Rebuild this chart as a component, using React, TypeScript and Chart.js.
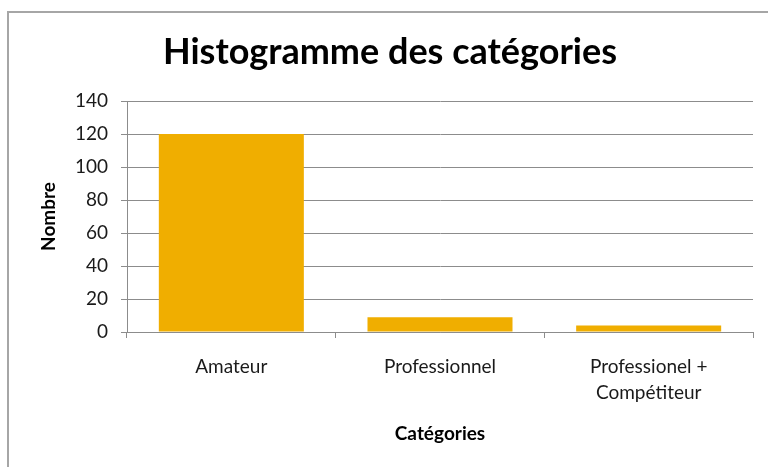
import React, { useEffect, useRef } from "react";
import { Chart, registerables } from "chart.js";

Chart.register(...registerables);

const categories: (string | string[])[] = [
  "Amateur",
  "Professionnel",
  ["Professionel +", "Compétiteur"],
];
const counts: number[] = [120, 9, 4];
const yTicks = { min: 0, max: 140, step: 20 };

const titleText = "Histogramme des catégories";
const yTitle = "Nombre";
const xTitle = "Catégories";

const FONT = "Lato, 'Open Sans', sans-serif";
const BAR = "#F0AE00";
const GRID = "#8c8c8c";

const framePlugin = {
  id: "frameAndTitle",
  beforeDraw(chart: any) {
    const ctx = chart.ctx;
    ctx.save();
    ctx.strokeStyle = "#a6a6a6";
    ctx.lineWidth = 2;
    ctx.beginPath();
    ctx.moveTo(8, chart.height);
    ctx.lineTo(8, 12);
    ctx.lineTo(chart.width, 12);
    ctx.stroke();
    ctx.fillStyle = "#000";
    ctx.font = `bold 36px ${FONT}`;
    ctx.textAlign = "center";
    ctx.textBaseline = "middle";
    ctx.fillText(titleText, 390, 52);
    ctx.restore();
  },
};

export default function App() {
  const ref = useRef<HTMLCanvasElement | null>(null);
  useEffect(() => {
    if (!ref.current) return;
    const chart = new Chart(ref.current, {
      type: "bar",
      data: {
        labels: categories,
        datasets: [
          {
            data: counts,
            backgroundColor: BAR,
            borderWidth: 0,
            categoryPercentage: 1,
            barPercentage: 0.695,
          },
        ],
      },
      plugins: [framePlugin],
      options: {
        responsive: false,
        animation: false,
        layout: { padding: { top: 101, left: 0, right: 15, bottom: 0 } },
        plugins: {
          legend: { display: false },
          tooltip: { enabled: false },
          title: { display: false },
        },
        scales: {
          x: {
            afterFit(scale: any) {
              scale.height = 135;
            },
            grid: {
              display: true,
              drawOnChartArea: false,
              drawTicks: true,
              tickLength: 6,
              color: GRID,
              offset: true,
            },
            border: { display: true, color: GRID, width: 1 },
            ticks: {
              color: "#1a1a1a",
              padding: 16,
              maxRotation: 0,
              autoSkip: false,
              font: { family: FONT, size: 19, lineHeight: 1.35 },
            },
            title: {
              display: true,
              text: xTitle,
              color: "#000",
              font: { family: FONT, size: 19, weight: "bold", lineHeight: 1.2 },
              padding: { top: 0, bottom: 22 },
            },
          },
          y: {
            min: yTicks.min,
            max: yTicks.max,
            afterFit(scale: any) {
              scale.width = 127;
            },
            grid: {
              color: GRID,
              drawTicks: true,
              tickLength: 6,
            },
            border: { display: true, color: GRID, width: 1 },
            ticks: {
              stepSize: yTicks.step,
              color: "#1a1a1a",
              padding: 13,
              font: { family: FONT, size: 19 },
            },
            title: {
              display: true,
              text: yTitle,
              color: "#000",
              font: { family: FONT, size: 19, weight: "bold", lineHeight: 1.2 },
              padding: { top: 37, bottom: 0 },
            },
          },
        },
      },
    });
    return () => chart.destroy();
  }, []);
  return (
    <div
      style={{
        position: "fixed",
        left: 0,
        top: 0,
        width: 768,
        height: 467,
        background: "#fff",
      }}
    >
      <canvas ref={ref} width={768} height={467} />
    </div>
  );
}
